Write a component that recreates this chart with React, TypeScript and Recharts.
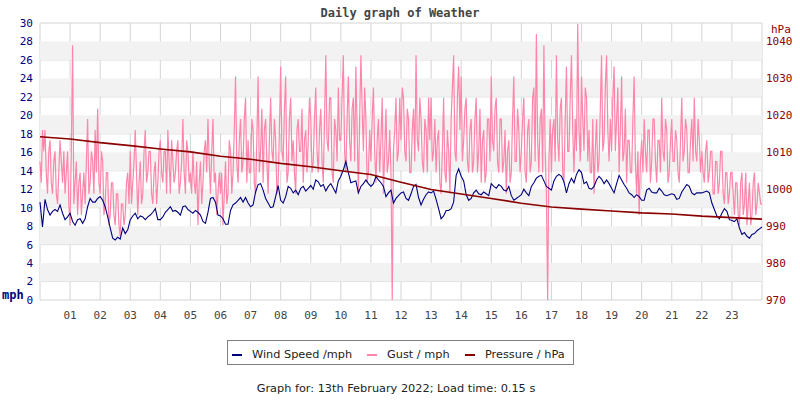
import React from 'react';
import { ComposedChart, Line, XAxis, YAxis, CartesianGrid, ReferenceArea } from 'recharts';

const hourLabels = ['01','02','03','04','05','06','07','08','09','10','11','12','13','14','15','16','17','18','19','20','21','22','23'];
const hourTicks = [0,1,2,3,4,5,6,7,8,9,10,11,12,13,14,15,16,17,18,19,20,21,22,23,24];
const mphTicks = [0,2,4,6,8,10,12,14,16,18,20,22,24,26,28,30];
const hpaTicks = [970,980,990,1000,1010,1020,1030,1040];

// Gust (mph), readings every 2.5 minutes, one row per hour
const gustMph = [
  15.0, 12.7, 18.4, 16.1, 18.4, 13.8, 11.5, 16.1, 17.3, 12.7, 11.5, 15.0, 16.1, 11.5, 10.4, 13.8, 17.3, 15.0, 12.7, 16.1, 11.5, 13.8, 16.1, 10.4,
  8.1, 16.1, 27.6, 10.4, 12.7, 15.0, 9.2, 12.7, 13.8, 9.2, 11.5, 13.8, 10.4, 15.0, 19.6, 11.5, 12.7, 16.1, 15.0, 11.5, 18.4, 13.8, 20.7, 12.7,
  11.5, 16.1, 15.0, 9.2, 10.4, 13.8, 13.8, 8.1, 9.2, 12.7, 12.7, 9.2, 8.1, 11.5, 11.5, 8.1, 6.9, 10.4, 10.4, 8.1, 9.2, 12.7, 13.8, 10.4,
  16.1, 10.4, 12.7, 15.0, 18.4, 13.8, 9.2, 12.7, 15.0, 10.4, 11.5, 16.1, 18.4, 12.7, 13.8, 16.1, 16.1, 11.5, 10.4, 13.8, 15.0, 10.4, 12.7, 16.1,
  17.3, 13.8, 12.7, 16.1, 16.1, 11.5, 18.4, 15.0, 11.5, 17.3, 15.0, 12.7, 13.8, 16.1, 17.3, 11.5, 12.7, 15.0, 19.6, 13.8, 11.5, 17.3, 16.1, 12.7,
  13.8, 11.5, 16.1, 12.7, 11.5, 15.0, 8.1, 12.7, 15.0, 10.4, 12.7, 16.1, 17.3, 13.8, 19.6, 15.0, 11.5, 16.1, 19.6, 12.7, 13.8, 9.2, 11.5, 13.8,
  11.5, 13.8, 8.1, 11.5, 15.0, 10.4, 11.5, 17.3, 16.1, 11.5, 13.8, 18.4, 24.2, 15.0, 12.7, 17.3, 19.6, 13.8, 15.0, 19.6, 21.9, 12.7, 17.3, 13.8,
  13.8, 19.6, 18.4, 12.7, 11.5, 17.3, 24.2, 13.8, 16.1, 20.7, 12.7, 18.4, 19.6, 15.0, 11.5, 17.3, 21.9, 16.1, 15.0, 19.6, 17.3, 11.5, 12.7, 18.4,
  25.3, 16.1, 15.0, 20.7, 24.2, 12.7, 13.8, 19.6, 21.9, 15.0, 17.3, 13.8, 11.5, 18.4, 19.6, 16.1, 16.1, 20.7, 12.7, 17.3, 18.4, 13.8, 17.3, 21.9,
  19.6, 13.8, 15.0, 19.6, 23.0, 16.1, 13.8, 18.4, 20.7, 15.0, 12.7, 19.6, 26.5, 17.3, 16.1, 21.9, 21.9, 13.8, 12.7, 19.6, 18.4, 15.0, 23.0, 17.3,
  17.3, 21.9, 26.5, 16.1, 13.8, 19.6, 24.2, 17.3, 15.0, 20.7, 21.9, 15.0, 25.3, 18.4, 11.5, 19.6, 26.5, 20.7, 16.1, 23.0, 19.6, 12.7, 13.8, 18.4,
  15.0, 19.6, 23.0, 16.1, 12.7, 17.3, 19.6, 13.8, 17.3, 21.9, 11.5, 16.1, 20.7, 13.8, 15.0, 18.4, 13.8, 0, 16.1, 18.4, 21.9, 15.0, 16.1, 21.9,
  17.3, 23.0, 21.9, 16.1, 15.0, 20.7, 19.6, 13.8, 13.8, 18.4, 20.7, 15.0, 26.5, 17.3, 16.1, 21.9, 19.6, 15.0, 13.8, 19.6, 18.4, 13.8, 21.9, 17.3,
  21.9, 15.0, 16.1, 19.6, 13.8, 17.3, 18.4, 12.7, 11.5, 16.1, 21.9, 13.8, 12.7, 18.4, 16.1, 11.5, 19.6, 23.0, 26.5, 16.1, 15.0, 21.9, 25.3, 18.4,
  24.2, 15.0, 17.3, 20.7, 21.9, 15.0, 13.8, 18.4, 19.6, 13.8, 15.0, 19.6, 21.9, 13.8, 16.1, 20.7, 12.7, 17.3, 18.4, 12.7, 13.8, 19.6, 19.6, 15.0,
  24.2, 17.3, 16.1, 20.7, 21.9, 15.0, 13.8, 19.6, 19.6, 13.8, 15.0, 18.4, 11.5, 16.1, 17.3, 12.7, 13.8, 19.6, 24.2, 15.0, 15.0, 20.7, 18.4, 13.8,
  16.1, 19.6, 21.9, 13.8, 12.7, 18.4, 19.6, 13.8, 15.0, 21.9, 23.0, 15.0, 28.8, 17.3, 13.8, 19.6, 20.7, 13.8, 27.6, 16.1, 11.5, 0, 15.0, 19.6,
  13.8, 18.4, 19.6, 15.0, 26.5, 17.3, 15.0, 20.7, 21.9, 13.8, 12.7, 19.6, 25.3, 16.1, 16.1, 21.9, 26.5, 18.4, 13.8, 19.6, 16.1, 29.9, 18.4, 15.0,
  24.2, 19.6, 16.1, 23.0, 21.9, 15.0, 18.4, 13.8, 13.8, 19.6, 11.5, 16.1, 19.6, 13.8, 15.0, 20.7, 26.5, 16.1, 17.3, 23.0, 26.5, 18.4, 15.0, 19.6,
  16.1, 21.9, 25.3, 16.1, 19.6, 23.0, 13.8, 18.4, 24.2, 15.0, 16.1, 20.7, 12.7, 17.3, 17.3, 13.8, 13.8, 19.6, 24.2, 15.0, 11.5, 16.1, 9.2, 15.0,
  17.3, 13.8, 19.6, 16.1, 13.8, 18.4, 18.4, 12.7, 15.0, 19.6, 19.6, 15.0, 12.7, 17.3, 17.3, 13.8, 21.9, 16.1, 15.0, 19.6, 18.4, 12.7, 13.8, 17.3,
  19.6, 15.0, 15.0, 18.4, 17.3, 13.8, 12.7, 17.3, 21.9, 15.0, 16.1, 19.6, 18.4, 13.8, 13.8, 17.3, 19.6, 15.0, 21.9, 16.1, 15.0, 19.6, 17.3, 13.8,
  16.1, 13.8, 12.7, 16.1, 17.3, 12.7, 13.8, 16.1, 16.1, 11.5, 11.5, 15.0, 15.0, 11.5, 12.7, 16.1, 16.1, 11.5, 10.4, 13.8, 13.8, 10.4, 11.5, 13.8,
  13.8, 11.5, 9.2, 12.7, 12.7, 9.2, 8.1, 12.7, 13.8, 9.2, 10.4, 13.8, 8.1, 10.4, 12.7, 8.1, 9.2, 12.7, 13.8, 9.2, 10.4, 12.7, 11.5, 10.4,
  10.4,
];

// Wind speed (mph), 5-minute readings, one row per hour
const windMph = [
  10.6, 7.9, 10.9, 9.8, 9.2, 9.6, 9.8, 9.6, 10.3, 9.4, 8.7, 9.0,
  9.4, 8.5, 8.1, 8.7, 8.8, 8.3, 8.8, 10.1, 11.0, 10.6, 10.6, 11.0,
  11.2, 10.8, 10.1, 9.0, 7.8, 6.7, 6.5, 6.8, 6.6, 7.8, 7.2, 7.6,
  8.7, 9.1, 9.4, 8.8, 9.1, 9.0, 8.7, 9.0, 9.2, 9.5, 9.9, 8.7,
  8.7, 9.0, 9.5, 9.8, 10.1, 9.6, 9.7, 9.5, 9.2, 10.1, 10.2, 9.8,
  9.6, 9.4, 9.7, 9.5, 9.2, 8.5, 8.3, 9.5, 11.0, 11.1, 10.6, 9.2,
  9.1, 8.8, 8.2, 8.2, 9.7, 10.3, 10.5, 10.8, 11.1, 10.6, 11.1, 10.5,
  10.1, 10.3, 11.7, 12.5, 12.6, 11.9, 11.0, 10.5, 10.0, 10.1, 11.2, 12.4,
  10.8, 10.5, 11.2, 12.3, 12.1, 11.6, 11.9, 11.4, 12.1, 12.3, 11.8, 12.1,
  12.4, 12.0, 13.0, 12.8, 12.3, 12.5, 11.8, 12.3, 12.6, 12.1, 11.6, 12.9,
  13.4, 14.1, 15.0, 13.8, 12.7, 12.8, 12.9, 11.6, 12.3, 12.6, 13.0, 12.6,
  12.3, 12.6, 13.4, 13.0, 12.7, 12.3, 11.2, 11.6, 11.9, 10.5, 11.0, 11.3,
  11.6, 11.7, 11.0, 10.8, 11.5, 12.3, 12.5, 11.1, 10.3, 10.9, 11.4, 11.7,
  11.6, 11.8, 10.9, 9.9, 8.8, 9.1, 9.7, 9.7, 9.9, 10.6, 13.5, 14.2,
  13.4, 12.9, 11.4, 10.8, 11.0, 11.6, 11.9, 11.5, 11.4, 11.7, 11.5, 11.3,
  12.6, 12.3, 12.1, 12.5, 12.3, 11.9, 11.8, 12.3, 11.3, 10.8, 11.0, 11.2,
  11.4, 12.0, 11.6, 11.3, 12.3, 12.7, 13.2, 13.4, 13.5, 12.9, 12.3, 12.1,
  11.9, 12.9, 13.4, 13.6, 13.4, 12.8, 11.6, 12.6, 13.2, 12.7, 13.6, 14.1,
  13.8, 12.6, 12.8, 12.1, 12.0, 12.3, 13.0, 13.4, 13.1, 12.6, 13.0, 12.6,
  12.1, 11.6, 12.6, 13.5, 13.0, 12.5, 12.1, 11.6, 11.4, 11.1, 11.4, 11.2,
  10.8, 10.8, 11.9, 12.1, 11.7, 11.6, 11.6, 12.1, 11.8, 11.4, 11.3, 11.4,
  11.5, 11.4, 10.9, 11.0, 11.7, 12.1, 12.5, 12.3, 11.6, 11.4, 11.6, 11.6,
  11.6, 11.7, 11.8, 11.6, 10.5, 9.8, 9.1, 8.8, 9.4, 9.9, 9.6, 8.7,
  8.6, 8.5, 8.8, 7.8, 7.1, 7.3, 6.9, 6.7, 7.1, 7.2, 7.5, 7.7,
  7.9,
];

// Pressure (hPa), hourly readings
const pressureHpa = [
  1014.2, 1013.6, 1012.6, 1011.8, 1010.9, 1010.1, 1008.9, 1008.1, 1007.0, 1006.1,
  1005.0, 1004.0, 1001.9, 999.9, 998.7, 997.5, 996.2, 995.2, 994.6, 994.1,
  993.6, 993.3, 992.7, 992.3, 991.9,
];

const gustData = gustMph.map((v, i) => ({ t: i / 24, gust: v }));
const windData = windMph.map((v, i) => ({ t: i / 12, wind: v }));
const pressureData = pressureHpa.map((v, i) => ({ t: i, pressure: v }));
const bands = mphTicks
  .map((t, i) => [t, mphTicks[i + 1]])
  .filter((_, i) => i % 2 === 1 && i < mphTicks.length - 2);

const NAVY = '#00007f';
const PINK = '#ff85ab';
const DARKRED = '#8b0000';
const MONO = '"DejaVu Sans Mono", monospace';
const SANS = '"DejaVu Sans", sans-serif';

export default function App() {
  return (
    <div style={{ position: 'absolute', left: 0, top: 0, width: 800, height: 400, background: '#fff' }}>
      <ComposedChart width={800} height={400} margin={{ top: 23, right: 0, bottom: 70, left: 0 }}>
        {bands.map(([a, b]) => (
          <ReferenceArea key={a} yAxisId="mph" x1={0} x2={24} y1={a} y2={b} fill="#f2f2f2" fillOpacity={1} stroke="none" />
        ))}
        <CartesianGrid yAxisId="mph" stroke="#d4d4d4" strokeWidth={1} />
        <XAxis
          dataKey="t"
          type="number"
          domain={[0, 24]}
          ticks={hourTicks}
          allowDuplicatedCategory={false}
          tickFormatter={(v: number) => (v >= 1 && v <= 23 ? hourLabels[v - 1] : '')}
          axisLine={false}
          tickLine={false}
          tickSize={0}
          tickMargin={11}
          height={30}
          tick={{ fill: '#444', fontFamily: MONO, fontSize: 11 }}
        />
        <YAxis
          yAxisId="mph"
          orientation="left"
          domain={[0, 30]}
          ticks={mphTicks}
          width={40}
          axisLine={false}
          tickLine={false}
          tickSize={0}
          tickMargin={7}
          tick={{ fill: NAVY, fontFamily: MONO, fontSize: 11 }}
        />
        <YAxis
          yAxisId="hpa"
          orientation="right"
          domain={[970, 1045]}
          ticks={hpaTicks}
          width={38}
          axisLine={false}
          tickLine={false}
          tickSize={0}
          tickMargin={4}
          tick={{ fill: DARKRED, fontFamily: MONO, fontSize: 11, textAnchor: 'start' }}
        />
        <Line data={gustData} yAxisId="mph" dataKey="gust" stroke={PINK} strokeWidth={1.2} dot={false} isAnimationActive={false} />
        <Line data={windData} yAxisId="mph" dataKey="wind" stroke={NAVY} strokeWidth={1.1} dot={false} isAnimationActive={false} />
        <Line data={pressureData} yAxisId="hpa" dataKey="pressure" stroke={DARKRED} strokeWidth={1.6} dot={false} isAnimationActive={false} />
      </ComposedChart>
      <svg width={800} height={400} style={{ position: 'absolute', left: 0, top: 0, pointerEvents: 'none' }}>
        <text x={400} y={17} textAnchor="middle" fontFamily={MONO} fontWeight="bold" fontSize={12} fill="#444">Daily graph of Weather</text>
        <text x={771} y={33} fontFamily={MONO} fontSize={11} fill={DARKRED}>hPa</text>
        <text x={2} y={299} fontFamily={MONO} fontWeight="bold" fontSize={12} fill={NAVY}>mph</text>
        <rect x={227.5} y={340.5} width={346} height={24} fill="#fff" stroke="#808080" strokeWidth={1} />
        <rect x={232} y={354} width={10} height={2} fill={NAVY} />
        <text x={252} y={358} fontFamily={SANS} fontSize={11.3} fill="#222">Wind Speed /mph</text>
        <rect x={367} y={354} width={10} height={2} fill={PINK} />
        <text x={387} y={358} fontFamily={SANS} fontSize={11.3} fill="#222">Gust / mph</text>
        <rect x={465} y={354} width={10} height={2} fill={DARKRED} />
        <text x={485} y={358} fontFamily={SANS} fontSize={11.3} fill="#222">Pressure / hPa</text>
        <text x={396} y={392} textAnchor="middle" fontFamily={SANS} fontSize={11.3} fill="#222">Graph for: 13th February 2022; Load time: 0.15 s</text>
      </svg>
    </div>
  );
}
